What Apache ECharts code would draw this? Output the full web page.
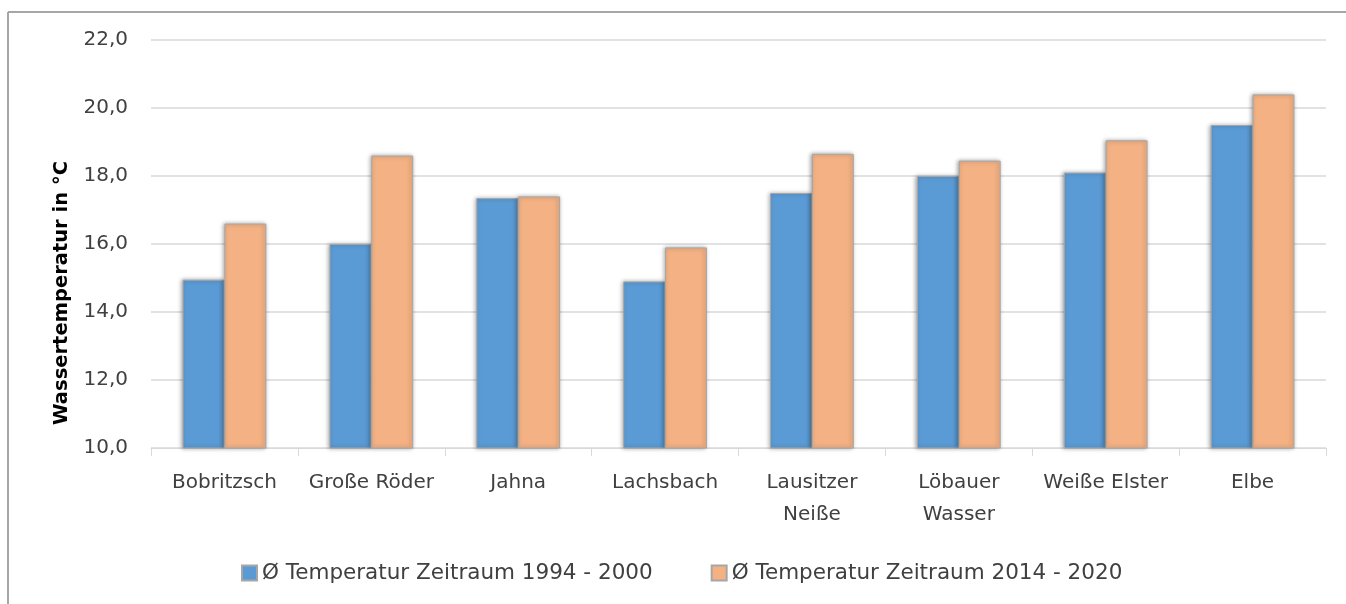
<!DOCTYPE html>
<html>
<head>
<meta charset="utf-8">
<script src="https://cdn.jsdelivr.net/npm/echarts@6/dist/echarts.min.js"></script>
<style>
  html, body { margin: 0; padding: 0; background: #fff; }
  #chart { width: 1346px; height: 604px; }
</style>
</head>
<body>
<div id="chart"></div>
<script>
// Gewässer (Kategorien)
const categories = ['Bobritzsch', 'Große Röder', 'Jahna', 'Lachsbach', 'Lausitzer\nNeiße', 'Löbauer\nWasser', 'Weiße Elster', 'Elbe'];
// Mittlere Wassertemperatur in °C
const temp1994_2000 = [14.95, 16.0, 17.35, 14.9, 17.5, 18.0, 18.1, 19.5];
const temp2014_2020 = [16.6, 18.6, 17.4, 15.9, 18.65, 18.45, 19.05, 20.4];
const seriesNames = ['Ø Temperatur Zeitraum 1994 - 2000', 'Ø Temperatur Zeitraum 2014 - 2020'];
const yAxisTitle = 'Wassertemperatur in °C';

const FONT = 'DejaVu Sans';
const TEXT = '#404040';

const barStyle = (color) => ({
  color: color,
  borderColor: '#a6a6a6',
  borderWidth: 1,
  shadowColor: 'rgba(0,0,0,0.35)',
  shadowBlur: 4,
  shadowOffsetX: -1,
  shadowOffsetY: 0
});

const frameStyle = { stroke: '#a6a6a6', lineWidth: 2 };

const chart = echarts.init(document.getElementById('chart'), null, { renderer: 'canvas' });
chart.setOption({
  backgroundColor: '#fff',
  animation: false,
  textStyle: { fontFamily: FONT },
  grid: { left: 151, right: 20, top: 40, bottom: 156 },
  legend: {
    top: 557,
    left: 236,
    itemWidth: 15,
    itemHeight: 15,
    itemGap: 58,
    icon: 'rect',
    textStyle: { fontFamily: FONT, fontSize: 21.5, color: TEXT },
    data: seriesNames
  },
  xAxis: {
    type: 'category',
    data: categories,
    axisLine: { lineStyle: { color: '#d9d9d9', width: 1 } },
    axisTick: { show: true, length: 8, lineStyle: { color: '#d9d9d9' } },
    axisLabel: {
      interval: 0,
      margin: 19,
      fontFamily: FONT,
      fontSize: 20,
      lineHeight: 32,
      color: TEXT
    }
  },
  yAxis: {
    type: 'value',
    min: 10,
    max: 22,
    interval: 2,
    axisLine: { show: false },
    axisTick: { show: false },
    splitLine: { lineStyle: { color: '#d9d9d9', width: 1.5 } },
    axisLabel: {
      margin: 23,
      fontFamily: FONT,
      fontSize: 20,
      color: TEXT,
      formatter: (v) => v.toFixed(1).replace('.', ',')
    }
  },
  graphic: [
    {
      type: 'line',
      shape: { x1: 8, y1: 12, x2: 1346, y2: 12 },
      style: frameStyle,
      silent: true
    },
    {
      type: 'line',
      shape: { x1: 8, y1: 12, x2: 8, y2: 604 },
      style: frameStyle,
      silent: true
    },
    {
      type: 'text',
      x: 62, y: 293,
      rotation: Math.PI / 2,
      style: {
        text: yAxisTitle,
        fill: '#000',
        font: 'bold 19.5px "' + FONT + '"',
        align: 'center',
        verticalAlign: 'middle'
      }
    }
  ],
  series: [
    {
      name: seriesNames[0],
      type: 'bar',
      data: temp1994_2000,
      barGap: '0%',
      barCategoryGap: '43%',
      itemStyle: barStyle('#5b9bd5')
    },
    {
      name: seriesNames[1],
      type: 'bar',
      data: temp2014_2020,
      barGap: '0%',
      barCategoryGap: '43%',
      itemStyle: barStyle('#f4b183')
    }
  ]
});
</script>
</body>
</html>
